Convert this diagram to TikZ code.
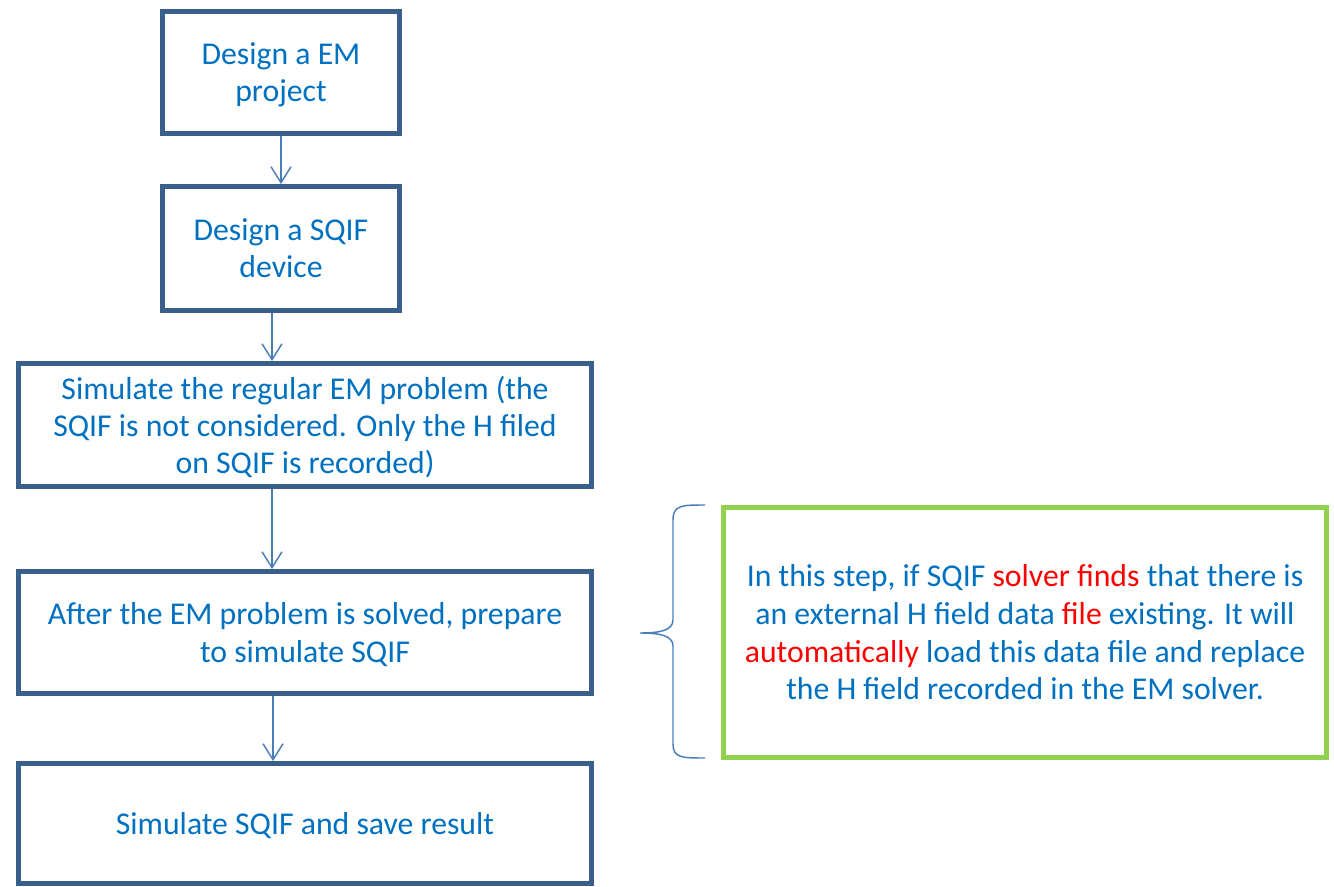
\documentclass[tikz,border=0pt]{standalone}
\usepackage{fontspec}
\setmainfont{Carlito}
\usetikzlibrary{arrows.meta,calc}
\definecolor{txtblue}{HTML}{0070C0}
\definecolor{boxline}{HTML}{3A5F8B}
\definecolor{arrline}{HTML}{4A7EBB}
\definecolor{grn}{HTML}{92D050}
\tikzset{
  stepbox/.style={draw=boxline, line width=3.6pt, rectangle, align=center, text=txtblue,
    font=\fontsize{23.8}{27.8}\selectfont, inner sep=0pt, text depth=0pt},
  notebox/.style={draw=grn, line width=3.6pt, rectangle, align=center, text=txtblue,
    font=\fontsize{23.8}{28.3}\selectfont, inner sep=0pt},
  arr/.style={draw=arrline, line width=1.1pt, -{Straight Barb[length=12pt,width=15pt,line width=1.1pt]}},
  bracestyle/.style={draw=arrline, line width=1.1pt}
}
\begin{document}
\begin{tikzpicture}[x=0.75pt,y=-0.75pt]
\useasboundingbox (0,0) rectangle (1334,887);
\node[stepbox, minimum width=237*0.75pt, minimum height=122*0.75pt] (b1) at (281,72.5) {Design a EM\\project};
\node[stepbox, minimum width=237*0.75pt, minimum height=124*0.75pt] (b2) at (281,248.5) {Design a SQIF\\device};
\node[stepbox, minimum width=573*0.75pt, minimum height=123*0.75pt] (b3) at (305,425) {Simulate the regular EM problem (the\\SQIF is not considered. Only the H filed\\on SQIF is recorded)};
\node[stepbox, minimum width=573*0.75pt, minimum height=122*0.75pt] (b4) at (305,632.5) {After the EM problem is solved, prepare\\to simulate SQIF};
\node[stepbox, minimum width=573*0.75pt, minimum height=120*0.75pt] (b5) at (305,823.5) {Simulate SQIF and save result};
\node[notebox, minimum width=603*0.75pt, minimum height=250*0.75pt] (note) at (1025,632.5) {In this step, if SQIF {\color{red}solver finds} that there is\\an external H field data {\color{red}file} existing. It will\\{\color{red}automatically} load this data file and replace\\the H field recorded in the EM solver.};
\draw[arr] (b1.south) -- (b2.north);
\coordinate (a2) at ($(b2.south)+(-9,0)$);
\draw[arr] (a2) -- (a2 |- b3.north);
\coordinate (a3) at ($(b3.south)+(-33,0)$);
\draw[arr] (a3) -- (a3 |- b4.north);
\coordinate (a4) at ($(b4.south)+(-32,0)$);
\draw[arr] (a4) -- (a4 |- b5.north);
\draw[bracestyle] (705,505) .. controls (682,505) and (673,505) .. (673,520) -- (673,620)
  .. controls (673,631) and (658,633) .. (640,633)
  .. controls (658,633) and (673,635) .. (673,646) -- (673,744)
  .. controls (673,758) and (682,758) .. (705,758);
\end{tikzpicture}
\end{document}
